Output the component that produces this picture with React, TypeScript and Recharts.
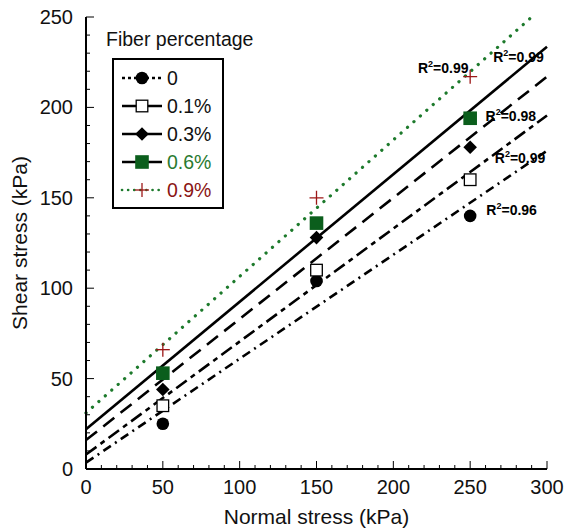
import React from 'react'
import {
  ComposedChart,
  Line,
  Scatter,
  XAxis,
  YAxis,
  ReferenceDot,
} from 'recharts'

// measured points (normal stress, shear stress)
const normalStress = [50, 150, 250]
const shear0 = [25, 104, 140]
const shear01 = [35, 110, 160]
const shear03 = [44, 128, 178]
const shear06 = [53, 136, 194]
const shear09 = [66, 150, 217]

// fitted lines, read at x = 0 and x = 300
const fitX = [0, 300]
const fit0 = [3.5, 176]
const fit01 = [8, 195.5]
const fit03 = [16, 217]
const fit06 = [22, 233.5]
const fit09 = [31, 257.5]

const seriesNames = ['0', '0.1%', '0.3%', '0.6%', '0.9%']

// R² annotations: [x, y, text]
const r2Labels: [number, number, string][] = [
  [216, 222, '0.99'],
  [265, 228, '0.99'],
  [260, 195, '0.98'],
  [266, 172, '0.99'],
  [260.5, 143, '0.96'],
]

const xTicks = [0, 10, 20, 30, 40, 50, 60, 70, 80, 90, 100, 110, 120, 130, 140, 150, 160, 170, 180, 190, 200, 210, 220, 230, 240, 250, 260, 270, 280, 290, 300]
const yTicks = [0, 10, 20, 30, 40, 50, 60, 70, 80, 90, 100, 110, 120, 130, 140, 150, 160, 170, 180, 190, 200, 210, 220, 230, 240, 250]

const FONT = '"Liberation Sans", Arial, Helvetica, sans-serif'
const GREEN = '#0b5e1c'
const DOT_GREEN = '#1d7a2c'
const RED = '#9c1717'

const toPoints = (xs: number[], ys: number[]) => xs.map((x, i) => ({ x, y: ys[i] }))

const styles = [
  { dash: '9 5 2 5', width: 2.6, color: '#000' },
  { dash: '13 5 5 5', width: 2.6, color: '#000' },
  { dash: '14 8', width: 2.6, color: '#000' },
  { dash: undefined, width: 2.6, color: '#000' },
  { dash: '0.1 8.5', width: 3.2, color: DOT_GREEN },
]

const Marker = ({ kind, cx, cy }: { kind: number; cx: number; cy: number }) => {
  if (kind === 0) return <circle cx={cx} cy={cy} r={6.3} fill="#000" />
  if (kind === 1)
    return <rect x={cx - 5.8} y={cy - 5.8} width={11.6} height={11.6} fill="#fff" stroke="#000" strokeWidth={1.3} />
  if (kind === 2)
    return <path d={`M${cx},${cy - 6.8}L${cx + 6.8},${cy}L${cx},${cy + 6.8}L${cx - 6.8},${cy}Z`} fill="#000" />
  if (kind === 3) return <rect x={cx - 6.8} y={cy - 6.8} width={13.6} height={13.6} fill={GREEN} />
  return (
    <g stroke={RED} strokeWidth={1.3}>
      <line x1={cx - 7} x2={cx + 7} y1={cy} y2={cy} />
      <line x1={cx} x2={cx} y1={cy - 7} y2={cy + 7} />
    </g>
  )
}

const BottomTick = (props: any) => {
  const { x, y, payload } = props
  const major = payload.value % 50 === 0
  return (
    <g>
      <line x1={x} x2={x} y1={y} y2={y - (major ? 8 : 4)} stroke="#000" strokeWidth={1} />
      {major && (
        <text x={x} y={y + 25} textAnchor="middle" fontSize={20} fontFamily={FONT} fill="#111">
          {payload.value}
        </text>
      )}
    </g>
  )
}

const TopTick = (props: any) => {
  const { x, y, payload } = props
  const major = payload.value % 50 === 0
  return <line x1={x} x2={x} y1={y} y2={y + (major ? 8 : 4)} stroke="#000" strokeWidth={1} />
}

const LeftTick = (props: any) => {
  const { x, y, payload } = props
  const major = payload.value % 50 === 0
  return (
    <g>
      <line x1={x} x2={x + (major ? 8 : 4)} y1={y} y2={y} stroke="#000" strokeWidth={1} />
      {major && (
        <text x={x - 13} y={y + 7} textAnchor="end" fontSize={20} fontFamily={FONT} fill="#111">
          {payload.value}
        </text>
      )}
    </g>
  )
}

const RightTick = (props: any) => {
  const { x, y, payload } = props
  const major = payload.value % 50 === 0
  return <line x1={x} x2={x - (major ? 8 : 4)} y1={y} y2={y} stroke="#000" strokeWidth={1} />
}

const R2Text = ({ cx, cy, value }: { cx: number; cy: number; value: string }) => (
  <text x={cx} y={cy + 5} fontSize={14} fontWeight="bold" fontFamily={FONT} fill="#000">
    R
    <tspan dy={-6} fontSize={9}>
      2
    </tspan>
    <tspan dy={6}>={value}</tspan>
  </text>
)

const LegendBox = () => {
  const rows = [78, 106, 134, 162, 190]
  const textColors = ['#111', '#111', '#111', '#2a7a30', '#8a1414']
  return (
    <svg style={{ position: 'absolute', left: 0, top: 0, pointerEvents: 'none' }} width={567} height={531}>
      <text x={106} y={46} fontSize={19.5} fontFamily={FONT} fill="#111">
        Fiber percentage
      </text>
      <rect x={113} y={59} width={110} height={149} fill="#fff" stroke="#000" strokeWidth={2} />
      {rows.map((ry, i) => (
        <g key={i}>
          <line
            x1={122}
            x2={162}
            y1={ry}
            y2={ry}
            stroke={styles[i].color}
            strokeWidth={i === 4 ? 2.6 : 2.5}
            strokeDasharray={i === 4 ? '0.1 6' : i === 0 ? '3 3' : undefined}
            strokeLinecap={i === 4 ? 'round' : 'butt'}
          />
          <Marker kind={i} cx={142} cy={ry} />
          <text x={167} y={ry + 7} fontSize={19.5} fontFamily={FONT} fill={textColors[i]}>
            {seriesNames[i]}
          </text>
        </g>
      ))}
    </svg>
  )
}

export default function App() {
  const points = [shear0, shear01, shear03, shear06, shear09].map((ys) => toPoints(normalStress, ys))
  const fits = [fit0, fit01, fit03, fit06, fit09].map((ys) => toPoints(fitX, ys))

  return (
    <div style={{ position: 'absolute', left: 0, top: 0, width: 567, height: 531, background: '#fff' }}>
      <ComposedChart width={567} height={531} margin={{ top: 17, right: 20, left: 0, bottom: 0 }}>
        <XAxis
          xAxisId="b"
          type="number"
          dataKey="x"
          domain={[0, 300]}
          ticks={xTicks}
          interval={0}
          height={62}
          tickSize={0}
          tickMargin={0}
          tickLine={false}
          axisLine={{ stroke: '#000', strokeWidth: 2 }}
          tick={<BottomTick />}
          label={{ value: 'Normal stress (kPa)', position: 'insideBottom', offset: 7, fontSize: 21, fontFamily: FONT, fill: '#111' }}
        />
        <XAxis
          xAxisId="t"
          orientation="top"
          type="number"
          dataKey="x"
          domain={[0, 300]}
          ticks={xTicks}
          interval={0}
          height={0}
          tickSize={0}
          tickMargin={0}
          tickLine={false}
          axisLine={{ stroke: '#000', strokeWidth: 2 }}
          tick={<TopTick />}
        />
        <YAxis
          yAxisId="l"
          type="number"
          dataKey="y"
          domain={[0, 250]}
          allowDataOverflow
          ticks={yTicks}
          interval={0}
          width={86}
          tickSize={0}
          tickMargin={0}
          tickLine={false}
          axisLine={{ stroke: '#000', strokeWidth: 2 }}
          tick={<LeftTick />}
          label={{ value: 'Shear stress (kPa)', angle: -90, position: 'insideLeft', offset: 20, fontSize: 21, fontFamily: FONT, fill: '#111', style: { textAnchor: 'middle' } }}
        />
        <YAxis
          yAxisId="r"
          orientation="right"
          type="number"
          dataKey="y"
          domain={[0, 250]}
          allowDataOverflow
          ticks={yTicks}
          interval={0}
          width={0}
          tickSize={0}
          tickMargin={0}
          tickLine={false}
          axisLine={{ stroke: '#000', strokeWidth: 2 }}
          tick={<RightTick />}
        />
        {fits.map((d, i) => (
          <Line
            key={'fit' + i}
            xAxisId="b"
            yAxisId="l"
            data={d}
            dataKey="y"
            type="linear"
            stroke={styles[i].color}
            strokeWidth={styles[i].width}
            strokeDasharray={styles[i].dash}
            strokeLinecap={i === 4 ? 'round' : 'butt'}
            dot={false}
            activeDot={false}
            isAnimationActive={false}
          />
        ))}
        {points.map((d, i) => (
          <Scatter
            key={'pts' + i}
            xAxisId="b"
            yAxisId="l"
            data={d}
            dataKey="y"
            shape={(p: any) => <Marker kind={i} cx={p.cx} cy={p.cy} />}
            isAnimationActive={false}
          />
        ))}
        {r2Labels.map(([x, y, v], i) => (
          <ReferenceDot
            key={'r2' + i}
            xAxisId="b"
            yAxisId="l"
            x={x}
            y={y}
            r={0}
            shape={(p: any) => <R2Text cx={p.cx} cy={p.cy} value={v} />}
          />
        ))}
      </ComposedChart>
      <LegendBox />
    </div>
  )
}
